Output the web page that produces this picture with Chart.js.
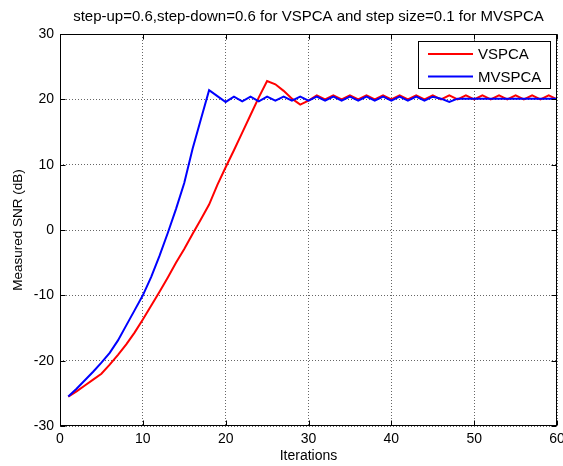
<!DOCTYPE html>
<html>
<head>
<meta charset="utf-8">
<script src="https://cdn.jsdelivr.net/npm/chart.js@4.4.0/dist/chart.umd.min.js"></script>
<style>
  html, body { margin: 0; padding: 0; background: #fff; }
  #wrap { width: 563px; height: 466px; }
</style>
</head>
<body>
<div id="wrap"><canvas id="snr-chart" width="563" height="466"></canvas></div>
<script>
// iteration index (x axis)
const iterations = [
    1, 2, 3, 4, 5, 6, 7, 8, 9, 10,
    11, 12, 13, 14, 15, 16, 17, 18, 19, 20,
    21, 22, 23, 24, 25, 26, 27, 28, 29, 30,
    31, 32, 33, 34, 35, 36, 37, 38, 39, 40,
    41, 42, 43, 44, 45, 46, 47, 48, 49, 50,
    51, 52, 53, 54, 55, 56, 57, 58, 59, 60
];

// measured SNR (dB)
const vspca = [
    -25.5, -24.7, -23.8, -22.9, -22.0, -20.6, -19.1, -17.5, -15.7, -13.7,
    -11.6, -9.5, -7.3, -5.0, -2.9, -0.6, 1.6, 3.9, 6.9, 9.6,
    12.2, 14.9, 17.6, 20.3, 22.8, 22.3, 21.3, 20.1, 19.2, 19.8,
    20.6, 20.0, 20.6, 20.0, 20.6, 20.0, 20.6, 20.0, 20.6, 20.0,
    20.6, 20.0, 20.6, 20.0, 20.6, 20.0, 20.6, 20.0, 20.6, 20.0,
    20.6, 20.0, 20.6, 20.0, 20.6, 20.0, 20.6, 20.0, 20.6, 20.0
];

const mvspca = [
    -25.5, -24.3, -23.0, -21.7, -20.3, -18.8, -16.9, -14.6, -12.3, -10.0,
    -7.2, -4.0, -0.5, 3.2, 7.2, 12.4, 16.9, 21.4, 20.5, 19.6,
    20.4, 19.7, 20.4, 19.7, 20.4, 19.8, 20.4, 19.8, 20.4, 19.8,
    20.4, 19.8, 20.4, 19.8, 20.4, 19.8, 20.4, 19.8, 20.4, 19.8,
    20.4, 19.8, 20.4, 19.8, 20.4, 20.1, 19.6, 20.1, 20.1, 20.1,
    20.1, 20.1, 20.1, 20.1, 20.1, 20.1, 20.1, 20.1, 20.1, 20.1
];

const seriesNames = ['VSPCA', 'MVSPCA'];
const seriesColors = ['#ff0000', '#0000ff'];

const xTicks = [0, 10, 20, 30, 40, 50, 60];
const yTicks = [-30, -20, -10, 0, 10, 20, 30];

const chartTitle = 'step-up=0.6,step-down=0.6 for VSPCA and step size=0.1 for MVSPCA';
const xTitle = 'Iterations';
const yTitle = 'Measured SNR (dB)';

const FONT = 'Liberation Sans, Arial, sans-serif';

// matlab-like box, inward ticks and boxed legend
const matlabAxes = {
    id: 'matlabAxes',
    afterDraw(chart) {
        const ctx = chart.ctx;
        const area = chart.chartArea;
        const xs = chart.scales.x;
        const ys = chart.scales.y;
        const L = Math.round(area.left) + 0.5;
        const R = Math.round(area.right) - 0.5;
        const T = Math.round(area.top) + 0.5;
        const B = Math.round(area.bottom) - 0.5;

        ctx.save();
        ctx.strokeStyle = '#000';
        ctx.lineWidth = 1;
        ctx.setLineDash([]);
        ctx.strokeRect(L, T, R - L, B - T);

        // inward ticks
        ctx.beginPath();
        xTicks.forEach(v => {
            const px = Math.round(xs.getPixelForValue(v)) + 0.5;
            ctx.moveTo(px, B); ctx.lineTo(px, B - 5);
            ctx.moveTo(px, T); ctx.lineTo(px, T + 5);
        });
        yTicks.forEach(v => {
            const py = Math.round(ys.getPixelForValue(v)) + 0.5;
            ctx.moveTo(L, py); ctx.lineTo(L + 5, py);
            ctx.moveTo(R, py); ctx.lineTo(R - 5, py);
        });
        ctx.stroke();

        // legend
        const bx = 418.5, by = 41.5, bw = 132, bh = 47;
        ctx.fillStyle = '#fff';
        ctx.fillRect(bx, by, bw, bh);
        ctx.strokeRect(bx, by, bw, bh);
        ctx.font = '15px ' + FONT;
        ctx.textBaseline = 'middle';
        ctx.textAlign = 'left';
        chart.data.datasets.forEach((ds, i) => {
            const ly = 54 + i * 22.5;
            ctx.strokeStyle = ds.borderColor;
            ctx.lineWidth = 2;
            ctx.beginPath();
            ctx.moveTo(428, ly);
            ctx.lineTo(473, ly);
            ctx.stroke();
            ctx.fillStyle = '#000';
            ctx.fillText(ds.label, 478, ly + 1);
        });
        ctx.restore();
    }
};

const ctx = document.getElementById('snr-chart').getContext('2d');

new Chart(ctx, {
    type: 'line',
    data: {
        datasets: [
            {
                label: seriesNames[0],
                data: iterations.map((x, i) => ({ x: x, y: vspca[i] })),
                borderColor: seriesColors[0],
                backgroundColor: seriesColors[0],
                borderWidth: 2,
                pointRadius: 0,
                tension: 0,
                order: 1
            },
            {
                label: seriesNames[1],
                data: iterations.map((x, i) => ({ x: x, y: mvspca[i] })),
                borderColor: seriesColors[1],
                backgroundColor: seriesColors[1],
                borderWidth: 2,
                pointRadius: 0,
                tension: 0,
                order: 0
            }
        ]
    },
    options: {
        responsive: false,
        animation: false,
        devicePixelRatio: 1,
        layout: {
            padding: { left: 0, right: 6, top: 0, bottom: 0 }
        },
        plugins: {
            legend: { display: false },
            tooltip: { enabled: false },
            title: {
                display: true,
                text: chartTitle,
                fullSize: false,
                color: '#000',
                font: { family: FONT, size: 15, weight: 'normal' },
                padding: { top: 8, bottom: 8 }
            }
        },
        scales: {
            x: {
                type: 'linear',
                min: 0,
                max: 60,
                afterFit: scale => {
                    scale.height = 40;
                    scale.paddingLeft = 0;
                    scale.paddingRight = 0;
                },
                afterBuildTicks: scale => { scale.ticks = xTicks.map(v => ({ value: v })); },
                ticks: {
                    color: '#000',
                    padding: 5,
                    maxRotation: 0,
                    font: { family: FONT, size: 14 }
                },
                grid: {
                    color: 'rgba(0,0,0,0.6)',
                    lineWidth: 1,
                    drawTicks: false
                },
                border: { display: false, dash: [1, 2] },
                title: {
                    display: true,
                    text: xTitle,
                    color: '#000',
                    font: { family: FONT, size: 14 },
                    padding: { top: 0, bottom: 1.6 }
                }
            },
            y: {
                type: 'linear',
                min: -30,
                max: 30,
                afterFit: scale => {
                    scale.width = 60;
                    scale.paddingTop = 0;
                    scale.paddingBottom = 0;
                },
                afterBuildTicks: scale => { scale.ticks = yTicks.map(v => ({ value: v })); },
                ticks: {
                    color: '#000',
                    padding: 6,
                    font: { family: FONT, size: 14 }
                },
                grid: {
                    color: 'rgba(0,0,0,0.6)',
                    lineWidth: 1,
                    drawTicks: false
                },
                border: { display: false, dash: [1, 2] },
                title: {
                    display: true,
                    text: yTitle,
                    color: '#000',
                    font: { family: FONT, size: 13.5 },
                    padding: { top: 9.9, bottom: 0 }
                }
            }
        }
    },
    plugins: [matlabAxes]
});
</script>
</body>
</html>
